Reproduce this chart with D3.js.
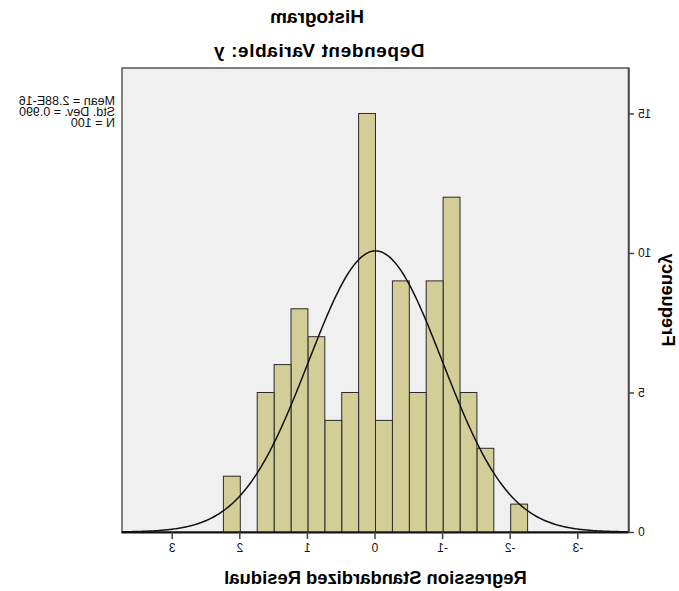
<!DOCTYPE html>
<html>
<head>
<meta charset="utf-8">
<script src="https://cdn.jsdelivr.net/npm/d3@7"></script>
<style>
  body { margin: 0; background: #fff; }
  text { font-family: Arial, "Liberation Sans", sans-serif; }
</style>
</head>
<body>
<div class="chart"></div>
<script>
// histogram bins (lower edge) and counts, bin width 0.25
var binStarts = [-2.25, -2.0, -1.75, -1.5, -1.25, -1.0, -0.75, -0.5, -0.25, 0, 0.25, 0.5, 0.75, 1.0, 1.25, 1.5, 1.75, 2.0];
var counts = [1, 0, 3, 5, 12, 9, 5, 9, 4, 15, 5, 4, 7, 8, 6, 5, 0, 2];
var binWidth = 0.25;
var xTicks = [-3, -2, -1, 0, 1, 2, 3];
var yTicks = [0, 5, 10, 15];
var statLines = ["Mean = 2.88E-16", "Std. Dev. = 0.990", "N = 100"];
var mean = 2.88e-16, sd = 0.990, n = 100;

var width = 679, height = 591;
var plotLeft = 50, plotRight = 557, plotTop = 68, plotBottom = 532;

var svg = d3.select(".chart").append("svg")
    .attr("width", width)
    .attr("height", height);

// the whole picture is mirrored left-right
var g = svg.append("g")
    .attr("transform", "translate(" + width + ",0) scale(-1,1)");

var x = d3.scaleLinear().domain([-3.75, 3.75]).range([plotLeft, plotRight]);
var y = d3.scaleLinear().domain([0, 16.63]).range([plotBottom, plotTop]);

//////// plot background
g.append("rect")
    .attr("x", plotLeft).attr("y", plotTop)
    .attr("width", plotRight - plotLeft).attr("height", plotBottom - plotTop)
    .attr("fill", "#f0f0f0")
    .attr("stroke", "#555")
    .attr("stroke-width", 1.5);

//////// bars
g.selectAll("rect.bar")
    .data(binStarts.map(function(b, i) { return { x0: b, count: counts[i] }; })
        .filter(function(d) { return d.count > 0; }))
    .enter().append("rect")
    .attr("class", "bar")
    .attr("x", function(d) { return x(d.x0); })
    .attr("y", function(d) { return y(d.count); })
    .attr("width", function(d) { return x(d.x0 + binWidth) - x(d.x0); })
    .attr("height", function(d) { return y(0) - y(d.count); })
    .attr("fill", "#d3ce97")
    .attr("stroke", "#2b2b2b")
    .attr("stroke-width", 1);

//////// normal curve
var curvePts = d3.range(-3.75, 3.7501, 0.02);
var line = d3.line()
    .x(function(v) { return x(v); })
    .y(function(v) {
        var z = (v - mean) / sd;
        return y(n * binWidth * Math.exp(-0.5 * z * z) / (sd * Math.sqrt(2 * Math.PI)));
    });
g.append("path")
    .attr("d", line(curvePts))
    .attr("fill", "none")
    .attr("stroke", "#111")
    .attr("stroke-width", 1.5);

//////// axes
var plainNum = function(d) { return String(d); };

var xAxis = g.append("g")
    .attr("transform", "translate(0," + plotBottom + ")")
    .call(d3.axisBottom(x).tickValues(xTicks).tickFormat(plainNum)
        .tickSize(7).tickPadding(4).tickSizeOuter(0));
xAxis.select(".domain").attr("stroke", "#111").attr("stroke-width", 1.8);
xAxis.selectAll(".tick line").attr("stroke", "#444").attr("stroke-width", 1.5);
xAxis.selectAll(".tick text").attr("font-size", "12px").attr("fill", "#111")
    .style("font-family", "Arial, 'Liberation Sans', sans-serif");

var yAxis = g.append("g")
    .attr("transform", "translate(" + plotLeft + ",0)")
    .call(d3.axisLeft(y).tickValues(yTicks).tickFormat(plainNum)
        .tickSize(5).tickPadding(4).tickSizeOuter(0));
yAxis.select(".domain").attr("stroke", "#444").attr("stroke-width", 1.5);
yAxis.selectAll(".tick line").attr("stroke", "#444").attr("stroke-width", 1.5);
yAxis.selectAll(".tick text").attr("font-size", "12px").attr("fill", "#111")
    .style("font-family", "Arial, 'Liberation Sans', sans-serif");

//////// titles
g.append("text")
    .attr("x", 362).attr("y", 23)
    .attr("text-anchor", "middle")
    .attr("font-size", "19px").attr("font-weight", "bold")
    .text("Histogram");

g.append("text")
    .attr("x", 360).attr("y", 57)
    .attr("text-anchor", "middle")
    .attr("font-size", "19px").attr("font-weight", "bold")
    .attr("letter-spacing", "0.6px")
    .text("Dependent Variable: y");

g.append("text")
    .attr("x", (plotLeft + plotRight) / 2).attr("y", 584)
    .attr("text-anchor", "middle")
    .attr("font-size", "18.4px").attr("font-weight", "bold")
    .text("Regression Standardized Residual");

g.append("text")
    .attr("transform", "translate(17," + (plotTop + plotBottom) / 2 + ") rotate(-90)")
    .attr("text-anchor", "middle")
    .attr("font-size", "18.4px").attr("font-weight", "bold")
    .text("Frequency");

//////// stats box
g.selectAll("text.stat")
    .data(statLines)
    .enter().append("text")
    .attr("class", "stat")
    .attr("x", 564)
    .attr("y", function(d, i) { return 105 + i * 11; })
    .attr("font-size", "12.5px")
    .attr("fill", "#111")
    .text(function(d) { return d; });
</script>
</body>
</html>
